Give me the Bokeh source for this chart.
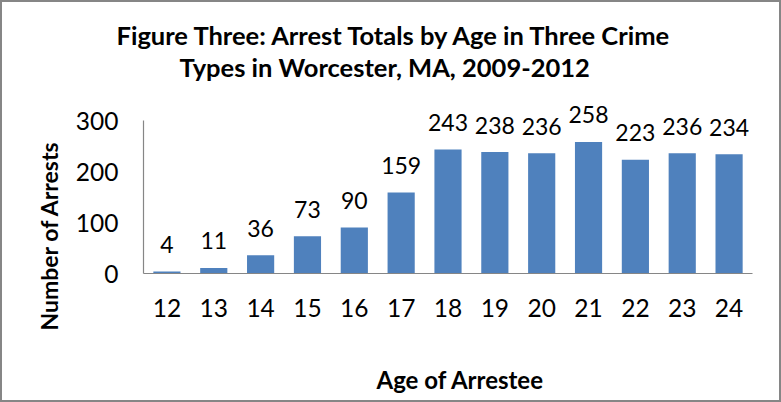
from bokeh.plotting import figure
from bokeh.models import Range1d, Title, ColumnDataSource, Label
from bokeh.embed import file_html
from bokeh.resources import INLINE

ages = ["12", "13", "14", "15", "16", "17", "18", "19", "20", "21", "22", "23", "24"]
arrests = [4, 11, 36, 73, 90, 159, 243, 238, 236, 258, 223, 236, 234]
y_ticks = [0, 100, 200, 300]

title_line1 = "Figure Three:  Arrest Totals by Age in Three Crime"
title_line2 = "Types in Worcester, MA, 2009-2012"
x_title = "Age of Arrestee"
y_title = "Number of Arrests"

FONT = "Lato"
BAR = "#4F81BD"
AXIS = "#868686"

W, H = 781, 402
TOP, BOTTOM, LEFT, RIGHT = 94, 131, 141, 31
AXIS_PX = 153  # pixel height of the 0..300 axis span
frame_h = H - TOP - BOTTOM
y_end = y_ticks[-1] * frame_h / AXIS_PX  # headroom above 300 so value labels are not clipped

src = ColumnDataSource(dict(age=ages, n=arrests))

p = figure(x_range=ages, y_range=Range1d(0, y_end), width=W, height=H,
           output_backend="svg", toolbar_location=None,
           min_border_left=LEFT, min_border_right=RIGHT, min_border_top=TOP, min_border_bottom=BOTTOM,
           styles={"border": "2px solid #868686", "box-sizing": "border-box"})

# title: line 1 outermost, line 2 below it, then a small spacer above the frame
p.title.text = title_line1
p.title.align = "left"
p.title.offset = -27
p.title.text_font = FONT
p.title.text_font_style = "bold"
p.title.text_font_size = "25.5px"
p.title.text_color = "#000000"
p.title.standoff = 0
p.add_layout(Title(text=" ", text_font_size="1px", standoff=12), "above")
p.add_layout(Title(text=title_line2, align="left", offset=36, text_font=FONT, standoff=0,
                   text_font_style="bold", text_font_size="25.5px", text_color="#000000"), "above")

p.vbar(x="age", top="n", width=0.58, source=src, color=BAR, line_color=None)
# value labels: factor i sits at synthetic coordinate i + 0.5 on the categorical scale
for i, n in enumerate(arrests):
    p.add_layout(Label(x=i + 0.5, y=n, text=str(n), text_align="center",
                       text_baseline="alphabetic", y_offset=27, text_font=FONT,
                       text_font_size="23px", text_color="#000000"))

p.xgrid.visible = False
p.ygrid.visible = False
p.outline_line_color = None
p.background_fill_color = "white"
p.border_fill_color = "white"

p.yaxis.ticker = y_ticks
p.yaxis.bounds = (y_ticks[0], y_ticks[-1])
for ax in (p.xaxis, p.yaxis):
    ax.axis_line_color = AXIS
    ax.axis_line_width = 1.2
    ax.major_tick_line_color = None
    ax.minor_tick_line_color = None
    ax.major_label_text_font = FONT
    ax.major_label_text_font_size = "24.5px"
    ax.major_label_text_color = "#000000"
p.yaxis.major_label_standoff = 19
p.xaxis.major_label_standoff = 19

p.add_layout(Title(text=y_title, align="left", offset=-57, text_font=FONT,
                   text_font_style="bold", text_font_size="23px", text_color="#000000",
                   standoff=20), "left")

p.add_layout(Title(text=" ", text_font_size="1px", standoff=40), "below")
p.add_layout(Title(text=x_title, align="left", offset=233, text_font=FONT,
                   text_font_style="bold", text_font_size="24px", text_color="#000000",
                   standoff=0), "below")

open("out.html", "w").write(file_html(p, INLINE))
